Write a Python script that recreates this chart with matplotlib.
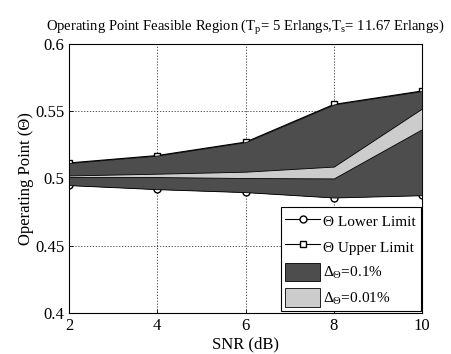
import numpy as np
import matplotlib.pyplot as plt

plt.rcParams['font.family'] = ['Liberation Serif', 'DejaVu Serif']
plt.rcParams['mathtext.fontset'] = 'custom'
plt.rcParams['mathtext.rm'] = 'Liberation Serif'
plt.rcParams['mathtext.it'] = 'Liberation Serif'

# data
snr = [2, 4, 6, 8, 10]
lower_limit = [0.4950, 0.4920, 0.4898, 0.4858, 0.4875]
upper_limit = [0.5115, 0.5170, 0.5270, 0.5550, 0.5650]
lower_001 = [0.5010, 0.5010, 0.5003, 0.5000, 0.5366]
upper_001 = [0.5022, 0.5035, 0.5050, 0.5088, 0.5520]
xticks = [2, 4, 6, 8, 10]
yticks = [0.4, 0.45, 0.5, 0.55, 0.6]

dark = '#4d4d4d'
light = '#cccccc'

fig = plt.figure(figsize=(4.51, 3.54), dpi=100)
ax = fig.add_axes([0.153, 0.116, 0.783, 0.760])

# boundary lines with markers (mostly hidden under the fills)
l1, = ax.plot(snr, lower_limit, 'k-', marker='o', mfc='white', mec='k', ms=5, lw=0.8, zorder=2)
l2, = ax.plot(snr, upper_limit, 'k-', marker='s', mfc='white', mec='k', ms=5, lw=0.8, zorder=2)
ax.plot(snr, lower_001, 'k-', marker='o', mfc='white', mec='k', ms=5, lw=0.8, zorder=2)
ax.plot(snr, upper_001, 'k-', marker='s', mfc='white', mec='k', ms=5, lw=0.8, zorder=2)

f1 = ax.fill_between(snr, lower_limit, upper_limit, facecolor=dark, edgecolor='k', lw=0.6, zorder=3)
f2 = ax.fill_between(snr, lower_001, upper_001, facecolor=light, edgecolor='k', lw=0.6, zorder=4)

ax.set_xlim(2, 10)
ax.set_ylim(0.4, 0.6)
ax.set_xticks(xticks)
ax.set_yticks(yticks)
ax.set_yticklabels(['0.4', '0.45', '0.5', '0.55', '0.6'])
ax.tick_params(direction='in', labelsize=12, length=3, width=0.6)
ax.grid(True, color='#333333', linestyle=(0, (1.5, 2)), linewidth=0.6, zorder=1)
ax.set_axisbelow(True)
for s in ax.spines.values():
    s.set_linewidth(0.8)

ax.set_xlabel('SNR (dB)', fontsize=12, labelpad=2)
ax.set_ylabel('Operating Point (Θ)', fontsize=12, labelpad=1)
ax.set_title('Operating Point Feasible Region (T$_\\mathrm{p}$= 5 Erlangs,T$_\\mathrm{s}$= 11.67 Erlangs)',
             fontsize=10.5, pad=9)

leg = ax.legend([l1, l2, f1, f2],
                ['Θ Lower Limit', 'Θ Upper Limit', 'Δ$_\\Theta$=0.1%', 'Δ$_\\Theta$=0.01%'],
                loc='lower right', fontsize=11, frameon=True, fancybox=False,
                edgecolor='k', framealpha=1, borderaxespad=0.1,
                handlelength=2.3, handleheight=1.5, handletextpad=0.2,
                labelspacing=0.45, borderpad=0.3)
leg.get_frame().set_linewidth(0.8)
leg.set_zorder(10)

fig.savefig('out.png', dpi=100)
